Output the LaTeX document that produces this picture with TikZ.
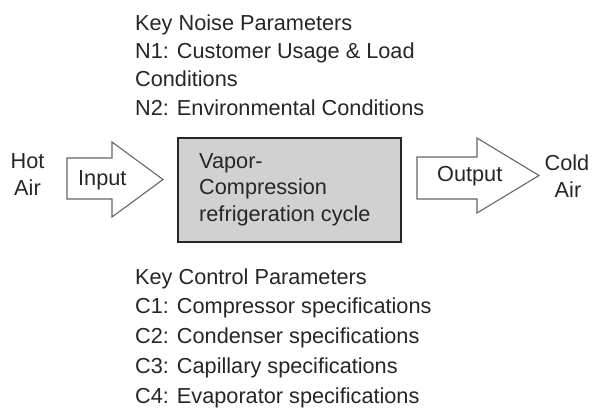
\documentclass[tikz,border=0pt]{standalone}
\usepackage{fontspec}
\setmainfont{Liberation Sans}
\begin{document}
\begin{tikzpicture}[x=1pt,y=-1pt,
  txt/.style={font=\fontsize{21.7}{26}\selectfont, text=black!85, inner sep=0pt, anchor=base west},
  ctxt/.style={txt, anchor=base},
  blockarrow/.style={draw=black!60, line width=1.1pt, fill=white, line join=miter},
  procbox/.style={draw=black!85, line width=2pt, fill=black!18, inner sep=0pt}]
\useasboundingbox (0,0) rectangle (592,412);
\fill[white] (0,0) rectangle (592,412);

% process box
\node[procbox, minimum width=223pt, minimum height=104pt] (box) at (289.5,189.5) {};
\node[txt] (b1) at (199,168) {Vapor-};
\node[txt] (b2) at (199,194.5) {Compression};
\node[txt] (b3) at (199,221) {refrigeration cycle};

% input arrow
\draw[blockarrow] (67,158) -- (112,158) -- (112,142) -- (163,179.5) -- (112,217) -- (112,199) -- (67,199) -- cycle;
\node[txt] (inp) at (78,185) {Input};

% output arrow
\draw[blockarrow] (417,157) -- (477,157) -- (477,138) -- (539,175.5) -- (477,213) -- (477,199) -- (417,199) -- cycle;
\node[txt] (outp) at (437,181) {Output};

% side labels
\node[ctxt] (hot) at (27.5,168) {Hot};
\node[ctxt] (air1) at (27.5,195) {Air};
\node[ctxt] (cold) at (567,170) {Cold};
\node[ctxt] (air2) at (568,197) {Air};

% noise parameters
\node[txt] (n0) at (135,31) {Key Noise Parameters};
\node[txt] (n1) at (135,59) {N1: Customer Usage \& Load};
\node[txt] (n2) at (135,87) {Conditions};
\node[txt] (n3) at (135,115) {N2: Environmental Conditions};

% control parameters
\node[txt] (c0) at (135,284) {Key Control Parameters};
\node[txt] (c1) at (135,313.75) {C1: Compressor specifications};
\node[txt] (c2) at (135,343.5) {C2: Condenser specifications};
\node[txt] (c3) at (135,373.25) {C3: Capillary specifications};
\node[txt] (c4) at (135,403) {C4: Evaporator specifications};
\end{tikzpicture}
\end{document}
